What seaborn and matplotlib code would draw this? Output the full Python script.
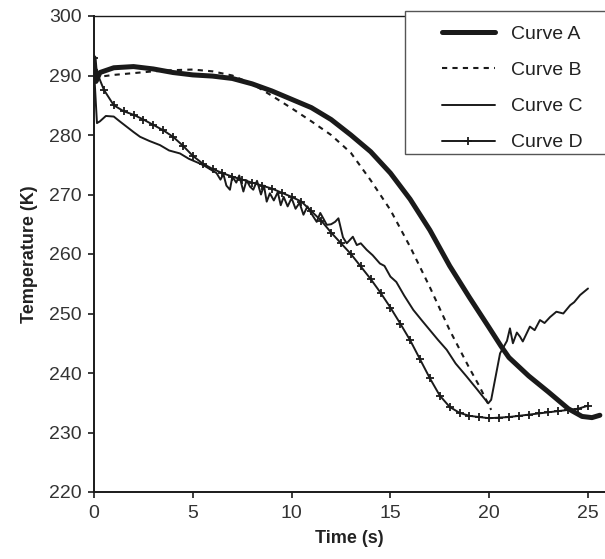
import matplotlib
matplotlib.use("Agg")
import matplotlib.pyplot as plt
from matplotlib.patches import Rectangle
import seaborn as sns

# Curve A (thick line)
time_a = [0, 0.1, 0.3, 1, 2, 3, 4, 5, 6, 7, 8, 9, 10, 11, 12, 13, 14, 15,
          16, 17, 18, 19, 20, 20.6, 21, 22, 23, 24, 24.7, 25.2, 25.6]
temp_a = [293, 289, 290.5, 291.3, 291.5, 291.1, 290.5, 290.1, 289.9, 289.5,
          288.6, 287.4, 286.0, 284.6, 282.6, 280.0, 277.2, 273.6, 269.2, 264.0,
          258.0, 252.7, 247.6, 244.5, 242.6, 239.5, 236.8, 234.0, 232.7, 232.5, 232.9]

# Curve B (dashed)
time_b = [0, 0.3, 1, 2, 3, 4, 5, 6, 7, 8, 9, 10, 11, 12, 13, 14, 15, 16, 17,
          18, 19, 19.5, 20.1]
temp_b = [290, 289.8, 290.1, 290.4, 290.7, 290.9, 291.0, 290.7, 290.0, 288.6,
          286.6, 284.5, 282.3, 280.0, 277.0, 272.4, 267.4, 261.2, 254.4, 247.2,
          240.8, 237.8, 233.8]

# Curve C (thin solid, noisy)
time_c = [0, 0.05, 0.15, 0.3, 0.6, 1.0, 1.3, 1.65, 2.0, 2.33, 2.8, 3.34, 3.8,
          4.35, 4.8, 5.36, 5.6, 5.9, 6.2, 6.4, 6.55, 6.7, 6.88, 7.0, 7.2, 7.35,
          7.56, 7.72, 7.9, 8.06, 8.25, 8.45, 8.6, 8.74, 8.9, 9.1, 9.3, 9.45, 9.6,
          9.8, 10.0, 10.2, 10.4, 10.6, 10.8, 11.0, 11.27, 11.45, 11.6, 11.78,
          12.0, 12.2, 12.37, 12.6, 12.79, 13.1, 13.3, 13.5, 13.8, 14.1, 14.47,
          14.7, 15.0, 15.3, 15.7, 16.16, 16.6, 17.0, 17.4, 17.85, 18.3, 18.86,
          19.4, 19.95, 20.1, 20.55, 20.9, 21.05, 21.2, 21.4, 21.56, 21.7, 22.06,
          22.3, 22.57, 22.8, 23.08, 23.4, 23.75, 24.1, 24.3, 24.6, 25.0]
temp_c = [291.5, 288, 282, 282.3, 283.2, 283.1, 282.3, 281.4, 280.5, 279.7,
          279.0, 278.3, 277.4, 276.9, 276.0, 275.2, 274.8, 274.2, 273.6, 272.5,
          273.4, 271.5, 270.8, 273.0, 272.0, 273.2, 270.5, 272.4, 271.3, 270.8,
          272.3, 270.0, 271.5, 268.8, 270.2, 269.0, 270.4, 268.2, 269.6, 268.0,
          269.4, 267.6, 268.6, 266.6, 268.0, 266.8, 265.4, 266.9, 266.0, 264.9,
          265.0, 265.4, 266.0, 262.8, 261.8, 262.9, 261.5, 261.8, 260.7, 259.8,
          258.4, 258.0, 256.2, 255.3, 253.0, 250.6, 248.8, 247.2, 245.6, 243.9,
          241.6, 239.4, 237.2, 234.9, 235.5, 243.3, 245.4, 247.5, 245.0, 246.8,
          246.1, 245.3, 247.8, 247.2, 248.9, 248.4, 249.4, 250.3, 250.0, 251.4,
          251.9, 253.1, 254.2]

# Curve D (line with + markers)
time_d = [0, 0.15, 0.5, 1.0, 1.5, 2.0, 2.5, 3.0, 3.5, 4.0, 4.5, 5.0, 5.5, 6.0,
          6.5, 7.0, 7.5, 8.0, 8.5, 9.0, 9.5, 10.0, 10.5, 11.0, 11.5, 12.0, 12.5,
          13.0, 13.5, 14.0, 14.5, 15.0, 15.5, 16.0, 16.5, 17.0, 17.5, 18.0, 18.5,
          19.0, 19.5, 20.0, 20.5, 21.0, 21.5, 22.0, 22.5, 23.0, 23.5, 24.0, 24.5,
          25.0]
temp_d = [293, 290.5, 287.6, 285.0, 284.0, 283.4, 282.6, 281.7, 280.8, 279.7,
          278.2, 276.5, 275.2, 274.3, 273.6, 273.0, 272.5, 272.0, 271.5, 271.0,
          270.3, 269.6, 268.8, 267.2, 265.6, 263.6, 261.8, 260.0, 257.9, 255.8,
          253.5, 251.0, 248.3, 245.5, 242.3, 239.1, 236.2, 234.3, 233.3, 232.8,
          232.6, 232.4, 232.5, 232.6, 232.8, 233.0, 233.2, 233.4, 233.6, 233.8,
          234.0, 234.5]

labels = ["Curve A", "Curve B", "Curve C", "Curve D"]

sns.set_style("ticks")
plt.rcParams['font.family'] = ['Liberation Sans', 'DejaVu Sans']

ink = "#1a1a1a"
fig = plt.figure(figsize=(6.05, 5.59), dpi=100)
ax = fig.add_axes([94 / 605, 1 - 492 / 559, 1 - 94 / 605, (492 - 16) / 559])

sns.lineplot(x=time_a, y=temp_a, ax=ax, color=ink, linewidth=3.6, sort=False,
             label=labels[0])
sns.lineplot(x=time_b, y=temp_b, ax=ax, color=ink, linewidth=1.5, sort=False,
             linestyle=(0, (2.5, 2.5)), label=labels[1])
sns.lineplot(x=time_c, y=temp_c, ax=ax, color=ink, linewidth=1.4, sort=False,
             label=labels[2])
sns.lineplot(x=time_d, y=temp_d, ax=ax, color=ink, linewidth=1.4, sort=False,
             marker="+", markersize=5.5, markeredgewidth=1.3,
             markeredgecolor=ink, label=labels[3])

ax.set_xlim(0, 511 / 19.76)
ax.set_ylim(220, 300)
ax.set_xticks([0, 5, 10, 15, 20, 25])
ax.set_yticks(range(220, 301, 10))
ax.tick_params(axis="both", labelsize=14, colors=ink, labelcolor="#333333",
               length=4, width=1.2, direction="out", pad=5)
ax.set_xlabel("Time (s)", fontsize=13, fontweight="bold", color="#222222", labelpad=6)
ax.set_ylabel("Temperature (K)", fontsize=13, fontweight="bold", color="#222222", labelpad=8)

for side in ["left", "bottom", "top"]:
    ax.spines[side].set_color(ink)
    ax.spines[side].set_linewidth(1.4)
ax.spines["top"].set_linewidth(1.0)
ax.spines["right"].set_visible(False)

# legend box drawn by hand, legend itself without frame
box = Rectangle((405 / 605, 1 - 154 / 559), 1.0, 143 / 559,
                transform=fig.transFigure, facecolor="white",
                edgecolor="#555555", linewidth=1.0, zorder=5, clip_on=False)
ax.add_patch(box)
leg = ax.legend(loc="upper left", bbox_to_anchor=(428 / 605, 1 - 12 / 559),
                bbox_transform=fig.transFigure, frameon=False, fontsize=14,
                handlelength=2.75, handletextpad=0.8, labelspacing=0.95,
                borderpad=0.2)
leg.set_zorder(6)
for txt in leg.get_texts():
    txt.set_color("#222222")

plt.savefig("out.png", dpi=100)
